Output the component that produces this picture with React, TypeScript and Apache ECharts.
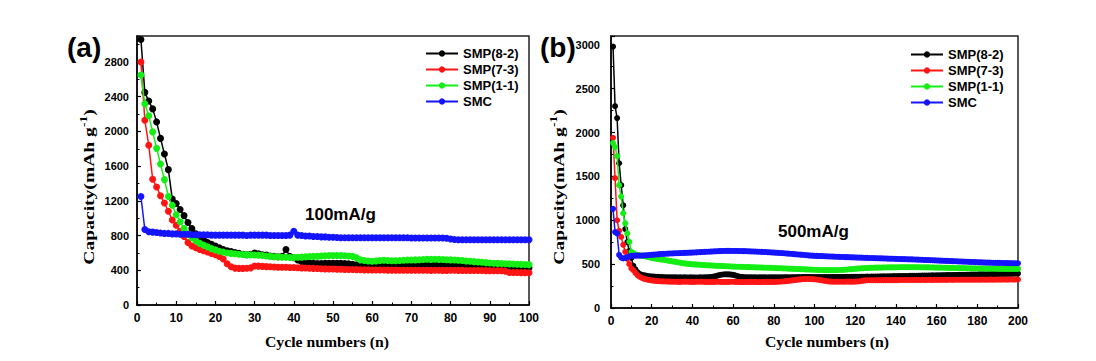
import React, { useEffect, useRef } from "react";
import * as echarts from "echarts";

const seriesNames = ["SMP(8-2)", "SMP(7-3)", "SMP(1-1)", "SMC"];
const seriesColors = ["#000000", "#ff1414", "#14ee14", "#1414ff"];

// Panel (a): 100 mA/g, cycles 1..100
const blackA = [
  3060, 2450, 2350, 2260, 2110, 1920, 1740, 1560, 1220, 1170,
  1100, 1030, 950, 880, 820, 780, 750, 720, 700, 680,
  660, 640, 625, 615, 605, 595, 585, 580, 585, 600,
  590, 580, 575, 565, 560, 555, 560, 640, 560, 545,
  520, 500, 490, 485, 480, 478, 478, 480, 482, 482,
  482, 480, 478, 475, 470, 462, 455, 450, 448, 448,
  450, 455, 450, 448, 448, 450, 452, 450, 452, 455,
  455, 458, 460, 462, 458, 460, 462, 458, 455, 452,
  450, 450, 448, 448, 446, 446, 445, 444, 444, 443,
  442, 440, 440, 438, 436, 435, 434, 432, 430, 430,
];
const redA = [
  2800, 2130, 1840, 1450, 1360, 1260, 1175, 1080, 980, 920,
  850, 790, 720, 680, 660, 640, 625, 610, 595, 580,
  560, 530, 475, 440, 425, 422, 422, 424, 428, 450,
  448, 445, 442, 440, 438, 436, 435, 435, 433, 432,
  430, 428, 426, 424, 422, 420, 418, 416, 415, 414,
  413, 412, 410, 410, 409, 408, 406, 405, 405, 404,
  404, 403, 403, 402, 402, 402, 401, 401, 400, 400,
  400, 401, 400, 400, 399, 400, 400, 399, 399, 400,
  400, 399, 399, 398, 398, 398, 397, 397, 396, 395,
  395, 394, 394, 390, 375, 374, 374, 373, 373, 372,
];
const greenA = [
  2650, 2320, 2180, 1995, 1805, 1625, 1445, 1250, 1150, 1040,
  960, 880, 820, 775, 740, 710, 690, 670, 650, 635,
  620, 610, 600, 595, 590, 585, 582, 580, 578, 577,
  575, 570, 565, 560, 555, 555, 550, 550, 548, 548,
  550, 552, 555, 558, 560, 562, 565, 568, 570, 570,
  570, 570, 568, 565, 560, 545, 520, 512, 508, 505,
  508, 512, 515, 512, 510, 510, 512, 515, 518, 518,
  520, 522, 525, 528, 526, 528, 526, 524, 522, 520,
  518, 515, 512, 508, 505, 500, 496, 492, 488, 485,
  482, 480, 478, 476, 474, 472, 470, 468, 466, 465,
];
const blueA = [
  1250, 870, 845, 840, 835, 830, 825, 825, 820, 820,
  815, 815, 815, 810, 810, 810, 810, 810, 805, 805,
  805, 805, 805, 805, 805, 805, 805, 800, 805, 805,
  805, 805, 805, 800, 800, 800, 800, 800, 805, 850,
  805, 800, 795, 795, 790, 790, 785, 785, 780, 780,
  778, 776, 776, 775, 775, 775, 775, 775, 775, 775,
  775, 775, 775, 775, 775, 775, 775, 775, 775, 772,
  772, 772, 772, 772, 772, 772, 772, 772, 770, 760,
  755, 752, 752, 752, 752, 752, 752, 752, 752, 752,
  752, 752, 752, 752, 752, 752, 752, 752, 752, 752,
];

// Panel (b): 500 mA/g, cycles 1..200
const blackB = [
  2980, 2300, 2165, 1650, 1400, 1170, 900, 750, 650, 570,
  480, 440, 410, 390, 380, 374, 369, 365, 362, 360,
  358, 356, 355, 353, 352, 351, 350, 350, 349, 350,
  349, 350, 348, 349, 348, 349, 348, 347, 349, 348,
  348, 347, 348, 349, 348, 349, 350, 351, 353, 356,
  361, 367, 374, 379, 382, 384, 384, 383, 381, 378,
  372, 365, 358, 354, 352, 351, 350, 349, 349, 350,
  349, 348, 349, 349, 350, 349, 348, 349, 350, 349,
  349, 350, 350, 349, 350, 351, 350, 350, 351, 351,
  351, 352, 351, 352, 352, 353, 352, 352, 353, 352,
  352, 353, 352, 353, 353, 352, 353, 353, 354, 353,
  353, 354, 354, 353, 354, 355, 354, 355, 355, 356,
  356, 356, 357, 356, 357, 358, 357, 358, 359, 359,
  359, 360, 360, 361, 360, 361, 362, 362, 363, 362,
  363, 364, 364, 365, 364, 365, 366, 366, 367, 367,
  368, 368, 369, 369, 370, 370, 371, 372, 371, 372,
  373, 373, 374, 374, 375, 375, 376, 376, 377, 377,
  378, 378, 379, 379, 380, 380, 381, 381, 382, 382,
  383, 383, 384, 384, 385, 385, 386, 386, 387, 387,
  388, 388, 389, 389, 390, 390, 390, 391, 391, 392,
];
const redB = [
  1940, 1480, 1000, 880, 810, 720, 640, 560, 500, 450,
  430, 400, 375, 357, 345, 335, 328, 322, 319, 315,
  312, 309, 307, 305, 304, 303, 302, 301, 301, 300,
  300, 299, 298, 298, 299, 300, 300, 299, 298, 298,
  298, 299, 300, 300, 299, 298, 298, 297, 297, 298,
  298, 299, 299, 298, 297, 297, 298, 298, 299, 299,
  298, 297, 297, 296, 296, 297, 297, 298, 298, 297,
  297, 296, 296, 297, 297, 298, 298, 298, 297, 297,
  298, 299, 300, 302, 304, 306, 309, 312, 315, 318,
  321, 324, 326, 328, 330, 331, 331, 330, 329, 327,
  325, 322, 318, 314, 310, 306, 303, 301, 300, 300,
  300, 299, 299, 300, 300, 301, 301, 300, 300, 301,
  302, 304, 308, 312, 315, 316, 316, 316, 316, 317,
  317, 317, 317, 318, 318, 318, 318, 318, 318, 318,
  318, 319, 319, 319, 319, 319, 319, 319, 320, 320,
  320, 320, 321, 320, 320, 321, 321, 320, 321, 321,
  321, 321, 322, 321, 321, 322, 322, 321, 322, 322,
  322, 322, 323, 322, 322, 323, 323, 322, 323, 323,
  323, 323, 324, 323, 323, 324, 324, 323, 324, 324,
  324, 324, 325, 324, 324, 325, 325, 324, 325, 325,
];
const greenB = [
  1880, 1835, 1730, 1400, 1270, 1080, 965, 850, 755, 640,
  625, 610, 605, 600, 598, 594, 588, 582, 576, 570,
  566, 562, 558, 555, 552, 548, 544, 540, 536, 532,
  528, 524, 520, 516, 512, 509, 506, 503, 500, 498,
  497, 495, 494, 492, 490, 489, 487, 486, 485, 484,
  482, 481, 480, 479, 478, 477, 476, 475, 474, 472,
  471, 470, 470, 469, 468, 467, 466, 466, 465, 464,
  463, 462, 462, 461, 460, 459, 459, 458, 457, 456,
  455, 454, 453, 452, 451, 450, 449, 448, 447, 446,
  445, 444, 443, 442, 441, 440, 439, 438, 437, 436,
  435, 434, 433, 433, 432, 432, 432, 432, 432, 432,
  432, 433, 434, 435, 437, 439, 441, 443, 445, 447,
  449, 451, 452, 454, 455, 456, 457, 458, 459, 460,
  460, 461, 461, 462, 462, 463, 463, 463, 464, 464,
  464, 465, 465, 465, 465, 465, 465, 465, 465, 465,
  465, 464, 464, 464, 463, 463, 462, 462, 461, 461,
  460, 460, 459, 459, 458, 458, 457, 457, 456, 456,
  455, 455, 454, 454, 453, 453, 452, 452, 451, 451,
  450, 450, 450, 449, 449, 449, 448, 448, 448, 447,
  447, 447, 446, 446, 446, 445, 445, 445, 445, 445,
];
const blueB = [
  1130, 865, 850, 605, 575, 565, 570, 580, 588, 594,
  596, 597, 597, 598, 598, 599, 600, 602, 604, 606,
  608, 610, 612, 614, 616, 617, 618, 620, 621, 622,
  623, 624, 625, 626, 627, 628, 629, 630, 631, 632,
  633, 634, 636, 637, 638, 640, 641, 642, 643, 645,
  646, 647, 648, 649, 650, 650, 651, 651, 650, 650,
  650, 650, 649, 649, 648, 648, 647, 646, 645, 644,
  643, 642, 641, 640, 639, 638, 636, 635, 633, 632,
  630, 629, 627, 626, 624, 622, 620, 618, 616, 614,
  612, 610, 608, 606, 604, 602, 600, 598, 597, 595,
  594, 593, 592, 591, 590, 589, 588, 587, 586, 585,
  584, 583, 582, 581, 580, 580, 579, 578, 577, 576,
  575, 575, 574, 573, 572, 571, 570, 570, 569, 568,
  567, 566, 566, 565, 564, 563, 562, 562, 561, 560,
  559, 558, 558, 557, 556, 555, 555, 554, 553, 552,
  551, 550, 549, 548, 547, 546, 545, 544, 543, 542,
  541, 540, 539, 538, 537, 536, 535, 534, 533, 532,
  531, 530, 529, 528, 527, 526, 525, 524, 523, 522,
  521, 520, 519, 518, 518, 517, 516, 515, 515, 514,
  514, 513, 513, 512, 512, 511, 511, 510, 510, 510,
];

const panelA = [blackA, redA, greenA, blueA];
const panelB = [blackB, redB, greenB, blueB];

const SANS = "Liberation Sans, Arial, sans-serif";
const SERIF = "Liberation Serif, Times New Roman, serif";

function makeXAxis(gridIndex: number, max: number, interval: number) {
  return {
    gridIndex,
    type: "value",
    min: 0,
    max,
    interval,
    axisLine: { onZero: false, lineStyle: { color: "#000", width: 1.5 } },
    axisTick: { inside: true, length: 4, lineStyle: { color: "#000", width: 1.2 } },
    minorTick: { show: true, splitNumber: 2, length: 2.5, lineStyle: { color: "#000", width: 1 } },
    splitLine: { show: false },
    axisLabel: {
      color: "#000",
      fontWeight: "bold",
      fontSize: 12,
      fontFamily: SANS,
      margin: 7,
      formatter: (v: number) => String(v),
    },
  };
}

function makeYAxis(gridIndex: number, max: number, interval: number, margin: number) {
  return {
    gridIndex,
    type: "value",
    min: 0,
    max,
    interval,
    axisLine: { show: true, onZero: false, lineStyle: { color: "#000", width: 1.5 } },
    axisTick: { show: true, inside: true, length: 4, lineStyle: { color: "#000", width: 1.2 } },
    minorTick: { show: true, splitNumber: 2, length: 2.5, lineStyle: { color: "#000", width: 1 } },
    splitLine: { show: false },
    axisLabel: {
      color: "#000",
      fontWeight: "bold",
      fontSize: 11,
      fontFamily: SANS,
      margin,
      showMaxLabel: false,
      formatter: (v: number) => String(v),
    },
  };
}

function makeSeries(panel: number[][], axisIndex: number, symbolSize: number) {
  return panel.map((arr, k) => ({
    name: seriesNames[k],
    type: "line",
    xAxisIndex: axisIndex,
    yAxisIndex: axisIndex,
    data: arr.map((v, i) => [i + 1, v]),
    symbol: "circle",
    symbolSize,
    showSymbol: true,
    color: seriesColors[k],
    lineStyle: { width: 1.5, color: seriesColors[k] },
    itemStyle: { color: seriesColors[k] },
    z: 2 + k,
  }));
}

function yName(x: number, y: number) {
  return {
    type: "text",
    x,
    y,
    rotation: Math.PI / 2,
    scaleX: 1.35,
    style: {
      text: "{a|Capacity(mAh g}{s|-1}{a|)}",
      align: "center",
      verticalAlign: "middle",
      fill: "#000",
      rich: {
        a: { fontSize: 14.5, fontWeight: "bold", fontFamily: SERIF, fill: "#000", lineHeight: 20 },
        s: { fontSize: 10, fontWeight: "bold", fontFamily: SERIF, fill: "#000", verticalAlign: "top" },
      },
    },
  };
}

function xName(x: number, y: number) {
  return {
    type: "text",
    x,
    y,
    scaleX: 1.05,
    style: {
      text: "Cycle numbers (n)",
      align: "center",
      verticalAlign: "middle",
      fill: "#000",
      fontSize: 15,
      fontWeight: "bold",
      fontFamily: SERIF,
    },
  };
}

function label(text: string, x: number, y: number, size: number) {
  return {
    type: "text",
    x,
    y,
    style: {
      text,
      align: "left",
      verticalAlign: "middle",
      fill: "#000",
      fontSize: size,
      fontWeight: "bold",
      fontFamily: SANS,
    },
  };
}

function makeLegend(left: number, top: number) {
  return {
    orient: "vertical",
    left,
    top,
    padding: 0,
    itemWidth: 32,
    itemHeight: 8,
    itemGap: 3,
    data: seriesNames,
    textStyle: { color: "#000", fontWeight: "bold", fontSize: 13, fontFamily: SANS, lineHeight: 13 },
  };
}

export default function App() {
  const ref = useRef<HTMLDivElement | null>(null);
  useEffect(() => {
    if (!ref.current) return;
    const chart = echarts.init(ref.current, null, { renderer: "svg" });
    chart.setOption({
      animation: false,
      backgroundColor: "#ffffff",
      grid: [
        { left: 137, top: 36, width: 392, height: 269, show: true, borderColor: "#222", borderWidth: 1.5 },
        { left: 611, top: 36, width: 407, height: 272, show: true, borderColor: "#222", borderWidth: 1.5 },
      ],
      xAxis: [makeXAxis(0, 100, 10), makeXAxis(1, 200, 20)],
      yAxis: [makeYAxis(0, 3100, 400, 8), makeYAxis(1, 3100, 500, 11)],
      legend: [makeLegend(425, 47), makeLegend(910, 48)],
      series: [...makeSeries(panelA, 0, 7), ...makeSeries(panelB, 1, 6)],
      graphic: [
        label("(a)", 67, 47, 28),
        label("(b)", 540, 47, 28),
        label("100mA/g", 305, 214, 17),
        label("500mA/g", 778, 231, 17),
        yName(89, 187),
        yName(559, 187),
        xName(327, 342),
        xName(827, 342),
      ],
    });
    return () => chart.dispose();
  }, []);
  return (
    <div
      ref={ref}
      style={{ position: "absolute", left: 0, top: 0, width: 1096, height: 361, background: "#fff" }}
    />
  );
}
